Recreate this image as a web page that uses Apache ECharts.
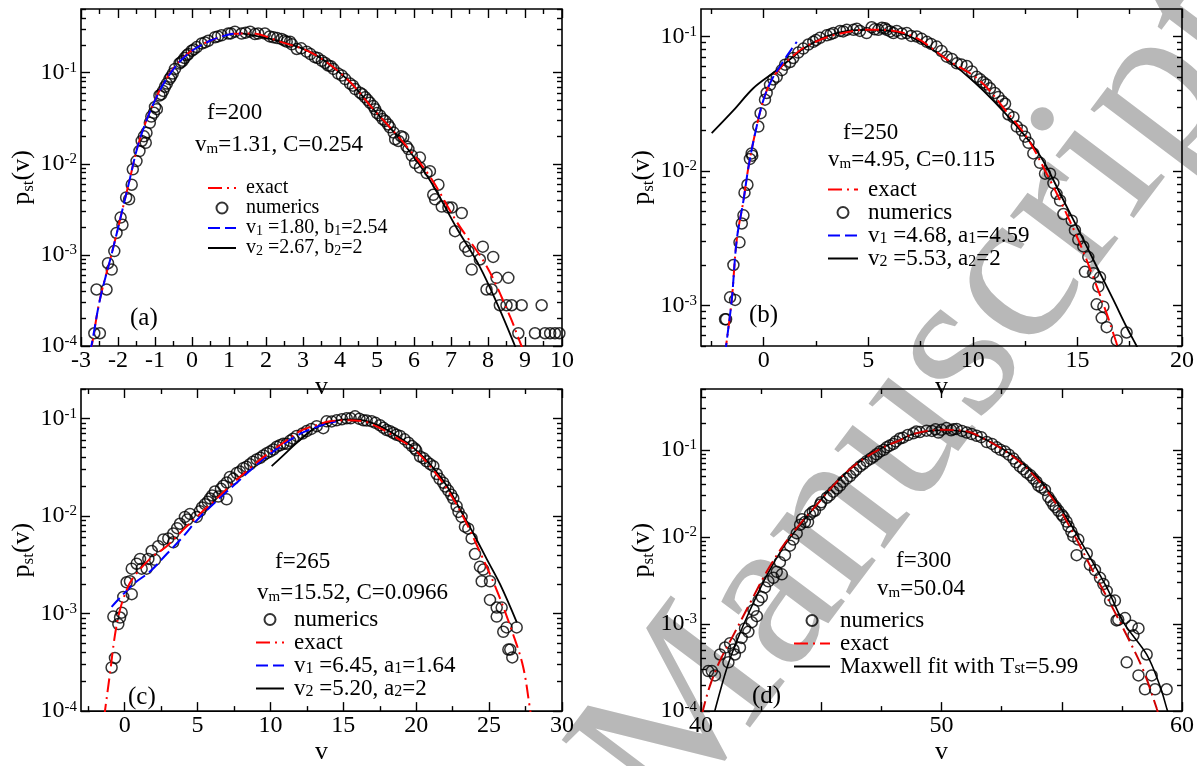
<!DOCTYPE html>
<html>
<head>
<meta charset="utf-8">
<script src="https://cdn.jsdelivr.net/npm/echarts@6/dist/echarts.min.js"></script>
<style>
  html, body { margin: 0; padding: 0; background: #fff; }
  #chart { width: 1197px; height: 766px; }
</style>
</head>
<body>
<div id="chart"></div>
<script>
// ---------- panel (a): f = 200 ----------
const numericsA = [
  [-2.64,1.38e-4],[-2.49,1.38e-4],[-2.58,4.17e-4],[-2.31,4.17e-4],[-2.27,8.1e-4],[-2.17,6.9e-4],
  [-2.10,1.10e-3],[-2.04,1.74e-3],[-1.93,2.57e-3],[-1.88,2.14e-3],[-1.78,4.27e-3],[-1.70,4.07e-3],
  [-1.63,5.89e-3],[-1.60,8.7e-3],[-1.50,1.07e-2],[-1.42,1.38e-2],[-1.36,1.78e-2],[-1.30,2.0e-2],
  [-1.25,1.70e-2],[-1.23,2.19e-2],[-1.14,2.82e-2],[-1.10,3.3e-2],[-1.03,3.63e-2],[-1.00,4.2e-2],
  [-0.95,3.98e-2],[-0.88,5.62e-2],[-0.83,5.8e-2],[-0.78,6.31e-2],[-0.73,7.0e-2],[-0.68,7.59e-2],
  [-0.61,8.51e-2],[-0.57,9.0e-2],[-0.52,9.77e-2],[-0.46,0.110],[-0.34,0.126],[-0.30,0.130],
  [-0.25,0.135],[-0.20,0.145],[-0.14,0.155],[-0.10,0.160],[-0.01,0.174],[0.05,0.180],[0.13,0.191],
  [0.26,0.209],[0.35,0.215],[0.44,0.224],[0.62,0.245],[0.70,0.250],[0.80,0.257],[0.98,0.269],
  [1.05,0.270],[1.16,0.282],[1.34,0.269],[1.45,0.275],[1.57,0.282],[1.70,0.265],[1.79,0.269],
  [1.97,0.269],[2.10,0.250],[2.20,0.245],[2.30,0.240],[2.42,0.234],[2.50,0.225],[2.56,0.219],
  [2.65,0.219],[2.70,0.205],[2.83,0.182],[2.95,0.185],[3.10,0.170],[3.20,0.160],[3.32,0.148],
  [3.40,0.145],[3.51,0.135],[3.60,0.128],[3.68,0.120],[3.75,0.118],[3.82,0.110],[3.95,0.0977],
  [4.05,0.093],[4.14,0.0851],[4.27,0.0759],[4.35,0.072],[4.41,0.0661],[4.54,0.0603],[4.60,0.058],
  [4.68,0.0537],[4.75,0.050],[4.81,0.0468],[4.90,0.043],[4.95,0.0398],[5.00,0.036],[5.08,0.0339],
  [5.15,0.031],[5.22,0.0295],[5.30,0.027],[5.35,0.0251],[5.45,0.022],[5.49,0.0186],[5.58,0.0178],
  [5.65,0.020],[5.71,0.0195],[5.80,0.0155],[5.85,0.0145],[5.94,0.0123],[6.03,0.0102],[6.16,0.0117],
  [6.16,9.1e-3],[6.34,7.9e-3],[6.43,8.3e-3],[6.52,4.57e-3],[6.57,4.07e-3],[6.66,5.89e-3],
  [6.75,3.39e-3],[6.93,3.31e-3],[7.02,3.31e-3],[7.11,1.82e-3],[7.29,2.88e-3],[7.38,1.23e-3],
  [7.47,1.10e-3],[7.56,6.9e-4],[7.78,8.9e-4],[7.86,1.23e-3],[8.14,9.5e-4],[7.96,4.17e-4],
  [8.10,4.17e-4],[8.23,5.6e-4],[8.55,5.6e-4],[8.32,2.8e-4],[8.50,2.8e-4],[8.64,2.8e-4],
  [8.91,2.8e-4],[9.45,2.8e-4],[8.82,1.38e-4],[9.27,1.38e-4],[9.54,1.38e-4],[9.68,1.38e-4],
  [9.81,1.38e-4],[9.93,1.38e-4]
];
const exactA = [
  [-2.76,8.5e-5],[-2.71,1.0e-4],[-2.49,3.24e-4],[-2.14,1.15e-3],[-1.73,5.6e-3],[-1.41,1.86e-2],
  [-0.95,5.55e-2],[-0.51,0.110],[-0.05,0.170],[0.49,0.224],[1.11,0.267],[1.6,0.270],[2.38,0.219],
  [3.27,0.162],[4.19,0.0851],[4.9,0.0398],[5.7,0.0174],[6.43,7.24e-3],[7.16,2.29e-3],
  [7.97,7.41e-4],[8.6,2.09e-4],[8.81,1.26e-4],[8.95,9.0e-5]
];
const fit1A = [
  [-2.78,8.5e-5],[-2.72,1.0e-4],[-2.49,3.2e-4],[-2.14,1.15e-3],[-1.73,5.6e-3],[-1.41,1.86e-2],
  [-0.95,5.5e-2],[-0.51,0.108],[-0.05,0.168],[0.49,0.224],[1.0,0.262],[1.31,0.270]
];
const fit2A = [
  [1.31,0.272],[2.38,0.221],[3.27,0.163],[4.19,0.0851],[4.9,0.0398],[5.7,0.0170],[6.43,6.6e-3],
  [7.16,1.95e-3],[7.78,7.4e-4],[8.3,2.6e-4],[8.73,1.0e-4],[8.78,8.8e-5]
];

// ---------- panel (b): f = 250 ----------
const numericsB = [
  [-1.85,7.9e-4],[-1.80,7.9e-4],[-1.61,1.15e-3],[-1.37,1.10e-3],[-1.45,2.0e-3],[-1.16,2.95e-3],
  [-1.05,4.07e-3],[-0.97,4.68e-3],[-0.92,6.9e-3],[-0.78,7.9e-3],[-0.66,1.23e-2],[-0.58,1.35e-2],
  [-0.55,1.30e-2],[-0.26,2.14e-2],[-0.15,2.69e-2],[0.06,3.39e-2],[0.14,3.8e-2],[0.30,4.37e-2],
  [0.46,4.79e-2],[0.62,5.01e-2],[0.86,5.62e-2],[1.02,6.17e-2],[1.26,6.46e-2],[1.41,6.92e-2],
  [1.65,7.59e-2],[1.89,8.13e-2],[2.13,8.71e-2],[2.37,9.12e-2],[2.50,0.094],[2.69,9.77e-2],
  [3.01,0.102],[3.20,0.104],[3.33,0.106],[3.65,0.110],[3.80,0.109],[3.97,0.112],[4.29,0.112],
  [4.45,0.114],[4.60,0.110],[4.92,0.106],[5.16,0.117],[5.30,0.113],[5.48,0.112],[5.65,0.116],
  [5.80,0.115],[5.88,0.112],[6.05,0.109],[6.20,0.106],[6.36,0.110],[6.60,0.105],[6.84,0.106],
  [7.05,0.101],[7.32,0.100],[7.55,0.096],[7.80,0.0912],[8.00,0.088],[8.27,0.0841],[8.50,0.078],
  [8.75,0.0708],[9.00,0.068],[9.23,0.0631],[9.45,0.062],[9.71,0.0603],[9.95,0.055],[10.18,0.0501],
  [10.35,0.048],[10.50,0.0457],[10.65,0.044],[10.82,0.0412],[11.05,0.038],[11.22,0.0355],
  [11.40,0.033],[11.54,0.0316],[11.70,0.0263],[11.94,0.0251],[12.10,0.0214],[12.34,0.0200],
  [12.50,0.0180],[12.66,0.0162],[12.89,0.0135],[13.21,0.0115],[13.45,9.55e-3],[13.69,9.55e-3],
  [13.85,8.13e-3],[14.00,6.76e-3],[14.17,6.03e-3],[14.33,4.79e-3],[14.73,4.27e-3],[14.88,3.63e-3],
  [15.04,3.09e-3],[15.28,2.75e-3],[15.52,2.29e-3],[15.36,1.78e-3],[15.76,1.74e-3],[16.08,1.62e-3],
  [16.00,1.38e-3],[15.92,1.02e-3],[16.24,9.8e-4],[16.16,8.1e-4],[16.40,6.9e-4],[16.88,5.5e-4],
  [17.35,6.3e-4]
];
const exactB = [
  [-1.85,4.3e-4],[-1.80,5.0e-4],[-1.53,1.10e-3],[-1.29,3.09e-3],[-0.97,6.03e-3],[-0.73,1.07e-2],
  [-0.41,1.91e-2],[-0.01,3.39e-2],[0.39,4.79e-2],[0.87,6.03e-2],[1.35,7.08e-2],[2.06,8.51e-2],
  [3.33,0.102],[4.92,0.112],[5.56,0.112],[7.15,0.100],[8.75,0.0676],[10.34,0.0468],[11.62,0.0275],
  [12.58,0.0178],[13.53,9.55e-3],[14.33,5.37e-3],[15.12,2.88e-3],[15.76,1.62e-3],[16.40,8.7e-4],
  [16.72,6.17e-4],[16.91,5.0e-4],[17.0,4.37e-4]
];
const fit1B = [
  [-1.85,4.3e-4],[-1.80,5.0e-4],[-1.53,1.10e-3],[-1.29,3.09e-3],[-0.97,6.03e-3],[-0.73,1.07e-2],
  [-0.41,1.91e-2],[-0.01,3.39e-2],[0.39,4.79e-2],[0.87,6.31e-2],[1.35,8.13e-2],[1.58,9.12e-2]
];
const fit2B = [
  [-2.49,0.0191],[-1.45,0.0282],[-0.50,0.0412],[0.46,0.0537],[1.10,0.0646],[2.0,0.0832],
  [3.0,0.100],[4.0,0.110],[5.0,0.112],[6.0,0.110],[7.0,0.100],[8.0,0.0813],[9.0,0.0631],
  [10.0,0.0468],[11.0,0.0331],[12.0,0.0224],[13.0,0.0145],[13.53,0.0107],[14.24,6.46e-3],
  [15.12,3.47e-3],[15.92,1.95e-3],[16.72,1.10e-3],[17.35,6.92e-4],[17.83,5.0e-4],[17.9,4.7e-4]
];

// ---------- panel (c): f = 265 ----------
const numericsC = [
  [-0.90,2.8e-4],[-0.67,3.5e-4],[-0.78,9.3e-4],[-0.44,7.8e-4],[-0.32,9.1e-4],[-0.21,1.02e-3],
  [-0.10,1.48e-3],[0.48,1.58e-3],[0.13,2.09e-3],[0.36,2.14e-3],[0.48,2.88e-3],[0.82,3.24e-3],
  [1.16,2.88e-3],[1.05,3.63e-3],[1.50,2.88e-3],[1.62,3.63e-3],[1.85,4.37e-3],[2.08,3.55e-3],
  [2.30,4.9e-3],[2.65,5.75e-3],[2.99,5.89e-3],[3.33,5.37e-3],[3.33,6.61e-3],[3.60,7.5e-3],
  [3.79,8.32e-3],[4.13,9.77e-3],[4.30,9.2e-3],[4.48,1.05e-2],[4.94,9.77e-3],[5.16,1.12e-2],
  [5.30,1.22e-2],[5.51,1.32e-2],[5.70,1.40e-2],[5.85,1.51e-2],[6.00,1.62e-2],[6.19,1.78e-2],
  [6.42,1.58e-2],[6.60,1.90e-2],[6.76,2.04e-2],[6.99,1.48e-2],[7.00,2.2e-2],[7.22,2.51e-2],
  [7.45,2.4e-2],[7.68,2.75e-2],[7.90,2.85e-2],[8.13,3.09e-2],[8.35,3.2e-2],[8.59,3.39e-2],
  [8.80,3.6e-2],[9.05,3.8e-2],[9.30,3.95e-2],[9.51,4.17e-2],[9.75,4.4e-2],[9.97,4.57e-2],
  [10.20,4.8e-2],[10.43,5.13e-2],[10.65,5.3e-2],[10.88,5.5e-2],[11.11,5.5e-2],[11.34,5.89e-2],
  [11.55,6.2e-2],[11.80,6.61e-2],[12.20,7.0e-2],[12.48,7.41e-2],[12.80,7.8e-2],[13.17,8.32e-2],
  [13.62,7.94e-2],[13.85,9.33e-2],[14.20,9.3e-2],[14.54,9.55e-2],[14.90,9.8e-2],[15.23,0.100],
  [15.50,0.100],[15.80,0.105],[16.10,0.099],[16.37,9.55e-2],[16.60,9.5e-2],[16.94,9.33e-2],
  [17.20,9.0e-2],[17.51,8.51e-2],[17.75,8.0e-2],[17.97,7.59e-2],[18.20,7.4e-2],[18.43,7.08e-2],
  [18.65,6.8e-2],[18.89,6.61e-2],[19.20,6.1e-2],[19.46,5.62e-2],[19.70,5.2e-2],[19.91,4.9e-2],
  [20.00,4.7e-2],[20.26,4.07e-2],[20.50,3.9e-2],[20.71,3.63e-2],[20.95,3.4e-2],[21.17,3.24e-2],
  [21.40,2.69e-2],[21.60,2.4e-2],[21.85,2.19e-2],[22.00,2.0e-2],[22.20,1.82e-2],[22.40,1.65e-2],
  [22.54,1.51e-2],[22.77,1.26e-2],[22.90,1.1e-2],[23.11,9.77e-3],[23.34,7.76e-3],[23.57,7.41e-3],
  [23.80,5.89e-3],[24.03,4.07e-3],[24.37,3.02e-3],[24.60,2.82e-3],[24.49,2.14e-3],[25.06,2.14e-3],
  [25.06,1.38e-3],[25.52,1.15e-3],[25.86,1.15e-3],[25.52,9.3e-4],[26.20,7.2e-4],[26.89,7.2e-4],
  [25.97,6.5e-4],[26.32,4.27e-4],[26.45,4.27e-4],[26.59,3.55e-4]
];
const exactC = [
  [-1.42,8.5e-5],[-1.35,1.02e-4],[-1.01,2.45e-4],[-0.67,6.03e-4],[-0.32,1.10e-3],[0.13,1.74e-3],
  [0.59,2.34e-3],[1.73,3.63e-3],[2.88,4.9e-3],[4.02,7.24e-3],[5.16,1.05e-2],[6.31,1.51e-2],
  [7.45,2.19e-2],[8.59,3.09e-2],[9.74,4.27e-2],[10.88,5.62e-2],[12.03,7.41e-2],[12.94,8.32e-2],
  [14.08,9.33e-2],[15.23,9.55e-2],[16.37,9.33e-2],[17.51,7.94e-2],[18.66,6.31e-2],[19.80,4.9e-2],
  [20.94,3.24e-2],[22.09,1.91e-2],[23.23,9.77e-3],[24.37,4.27e-3],[25.52,1.74e-3],[26.66,6.03e-4],
  [27.34,2.82e-4],[27.80,1.07e-4],[27.85,9.5e-5]
];
const fit1C = [
  [-0.90,1.17e-3],[0.59,2.0e-3],[1.73,2.69e-3],[2.88,4.07e-3],[4.02,6.17e-3],[5.16,9.77e-3],
  [7.45,2.04e-2],[9.74,4.07e-2],[12.03,6.92e-2],[13.5,8.5e-2],[14.5,9.3e-2]
];
const fit2C = [
  [10.08,3.24e-2],[10.88,4.17e-2],[11.8,5.6e-2],[12.94,7.76e-2],[14.08,9.12e-2],[15.23,9.77e-2],
  [16.37,9.55e-2],[17.51,8.32e-2],[18.66,6.61e-2],[19.80,5.01e-2],[20.94,3.39e-2],[22.09,2.04e-2],
  [23.0,1.17e-2],[23.92,6.61e-3],[24.83,3.63e-3],[25.75,2.0e-3],[26.9,8.13e-4]
];

// ---------- panel (d): f = 300 ----------
const numericsD = [
  [40.30,2.88e-4],[40.45,2.88e-4],[40.58,2.57e-4],[40.79,4.47e-4],[41.00,5.37e-4],[41.14,3.63e-4],
  [41.21,6.03e-4],[41.35,5.1e-4],[41.41,4.47e-4],[41.62,5.37e-4],[41.69,6.92e-4],[41.83,8.91e-4],
  [41.97,8.13e-4],[42.11,1.05e-3],[42.18,1.45e-3],[42.32,1.23e-3],[42.39,1.86e-3],[42.53,2.04e-3],
  [42.66,2.63e-3],[42.80,3.09e-3],[43.01,3.39e-3],[43.15,3.98e-3],[43.36,3.72e-3],[43.28,5.13e-3],
  [43.49,6.17e-3],[43.70,7.94e-3],[43.84,9.33e-3],[43.98,1.10e-2],[44.12,1.38e-2],[44.20,1.6e-2],
  [44.32,1.48e-2],[44.45,1.48e-2],[44.53,1.82e-2],[44.65,1.95e-2],[44.74,2.0e-2],[44.95,2.34e-2],
  [45.00,2.5e-2],[45.23,2.82e-2],[45.35,3.0e-2],[45.50,3.31e-2],[45.65,3.6e-2],[45.78,3.89e-2],
  [45.90,4.3e-2],[46.06,4.68e-2],[46.20,5.0e-2],[46.33,5.5e-2],[46.45,5.9e-2],[46.61,6.46e-2],
  [46.75,6.9e-2],[46.89,7.41e-2],[47.05,7.9e-2],[47.17,8.32e-2],[47.30,8.9e-2],[47.44,9.55e-2],
  [47.60,0.100],[47.72,0.107],[47.85,0.112],[48.00,0.117],[48.10,0.125],[48.27,0.135],[48.40,0.138],
  [48.60,0.148],[48.83,0.155],[48.95,0.162],[49.10,0.160],[49.38,0.166],[49.60,0.165],[49.75,0.172],
  [49.87,0.158],[50.00,0.170],[50.21,0.178],[50.40,0.168],[50.50,0.172],[50.63,0.174],[50.85,0.165],
  [51.05,0.158],[51.25,0.152],[51.46,0.145],[51.65,0.140],[51.88,0.123],[52.10,0.117],[52.29,0.107],
  [52.45,0.100],[52.64,9.55e-2],[52.80,8.8e-2],[52.99,7.94e-2],[53.10,7.2e-2],[53.26,6.46e-2],
  [53.40,6.0e-2],[53.54,5.5e-2],[53.70,5.1e-2],[53.82,4.68e-2],[53.95,4.3e-2],[54.03,3.89e-2],
  [54.15,3.7e-2],[54.30,3.47e-2],[54.44,2.88e-2],[54.55,2.6e-2],[54.65,2.34e-2],[54.75,2.2e-2],
  [54.86,2.0e-2],[55.00,1.8e-2],[55.07,1.70e-2],[55.20,1.5e-2],[55.28,1.32e-2],[55.40,1.15e-2],
  [55.48,1.02e-2],[55.69,9.33e-3],[55.62,6.17e-3],[56.04,6.46e-3],[56.17,4.79e-3],[56.38,4.17e-3],
  [56.59,3.39e-3],[56.73,2.88e-3],[56.87,2.40e-3],[57.01,1.86e-3],[57.21,1.86e-3],[57.28,1.10e-3],
  [57.35,1.12e-3],[57.63,1.17e-3],[57.91,9.55e-4],[57.98,7.41e-4],[58.19,8.91e-4],[57.70,3.63e-4],
  [58.53,4.47e-4],[58.19,2.57e-4],[58.74,2.57e-4],[58.46,1.78e-4],[58.88,1.78e-4],[59.36,1.78e-4]
];
const exactD = [
  [40.05,9.0e-5],[40.10,1.07e-4],[40.37,1.95e-4],[40.79,3.8e-4],[41.34,7.41e-4],[42.04,1.74e-3],
  [42.73,3.98e-3],[43.42,7.94e-3],[44.12,1.41e-2],[44.81,2.34e-2],[45.50,3.89e-2],[46.20,6.03e-2],
  [46.89,8.32e-2],[47.58,0.107],[48.27,0.129],[48.83,0.152],[49.94,0.170],[50.91,0.166],
  [51.88,0.129],[52.99,8.32e-2],[53.96,4.68e-2],[54.79,2.34e-2],[55.62,9.33e-3],[56.31,3.98e-3],
  [57.01,1.74e-3],[57.70,7.41e-4],[58.39,2.95e-4],[58.95,1.07e-4],[59.0,9.5e-5]
];
const maxwellD = [
  [40.55,9.0e-5],[40.58,1.02e-4],[41.07,3.09e-4],[41.48,6.31e-4],[42.04,1.45e-3],[42.73,3.6e-3],
  [43.42,7.6e-3],[44.12,1.38e-2],[44.81,2.34e-2],[45.5,3.89e-2],[46.2,6.0e-2],[46.89,8.3e-2],
  [47.58,0.107],[48.27,0.130],[48.83,0.152],[49.94,0.168],[50.91,0.163],[51.88,0.130],[52.99,8.5e-2],
  [53.96,4.9e-2],[54.79,2.5e-2],[55.62,1.07e-2],[56.87,2.63e-3],[57.56,1.05e-3],[58.53,4.47e-4],
  [59.08,1.95e-4],[59.39,1.02e-4],[59.42,9.5e-5]
];

// ---------- axis ticks and labels ----------
const xLabelsA = [-3,-2,-1,0,1,2,3,4,5,6,7,8,9,10];
const xLabelsB = [0,5,10,15,20];
const xLabelsC = [0,5,10,15,20,25,30];
const xLabelsD = [40,50,60];
const xMajorD  = [40,45,50,55,60];
const yLabels  = [1e-4,1e-3,1e-2,1e-1];

const SERIF = '"Liberation Serif","Times New Roman",Times,serif';

function halfSteps(ticks, lo) {
  const out = [];
  const step = ticks[1] - ticks[0];
  const first = ticks[0] - step / 2 >= lo ? ticks[0] - step / 2 : ticks[0] + step / 2;
  for (let v = first; v < ticks[ticks.length - 1]; v += step) out.push(+v.toFixed(6));
  return out;
}
function logMinors(lo, hi) {
  const out = [];
  for (let e = -5; e <= 0; e++) {
    for (let k = 2; k <= 9; k++) {
      const v = +(k * Math.pow(10, e)).toPrecision(3);
      if (v >= lo && v <= hi) out.push(v);
    }
  }
  return out;
}
function toRich(s) { return s.replace(/_([A-Za-z0-9]+)/g, '{sub|$1}'); }
function subStyle(size, lh) {
  return { fontSize: size, fontFamily: SERIF, color: '#000', lineHeight: lh, verticalAlign: 'bottom' };
}

const panels = [
  { left: 81,  top: 9,   xMin: -3, xMax: 10, xMajor: xLabelsA, xLabels: xLabelsA, xMinor: halfSteps(xLabelsA, -3),
    yMin: 1e-4, yMax: 0.5, nameGapX: 11 },
  { left: 701, top: 9,   xMin: -3, xMax: 20, xMajor: xLabelsB, xLabels: xLabelsB, xMinor: halfSteps(xLabelsB, -3),
    yMin: 5e-4, yMax: 0.16, nameGapX: 11 },
  { left: 81,  top: 389, xMin: -3, xMax: 30, xMajor: xLabelsC, xLabels: xLabelsC, xMinor: halfSteps(xLabelsC, -3),
    yMin: 1e-4, yMax: 0.2, nameGapX: 14 },
  { left: 701, top: 389, xMin: 40, xMax: 60, xMajor: xMajorD, xLabels: xLabelsD, xMinor: halfSteps(xMajorD, 40),
    yMin: 1e-4, yMax: 0.5, nameGapX: 14 }
];

const grids = [], xAxes = [], yAxes = [];
const tickLine = { color: '#000', width: 1.4 };

panels.forEach((p, gi) => {
  grids.push({ left: p.left, top: p.top, width: 481, height: 337, show: true,
               borderColor: '#000', borderWidth: 1.6, backgroundColor: 'transparent', containLabel: false });
  const xBase = { type: 'value', gridIndex: gi, min: p.xMin, max: p.xMax,
                  axisLine: { show: false, onZero: false }, splitLine: { show: false } };
  const noLabel = { show: false };
  xAxes.push(Object.assign({}, xBase, {
    position: 'bottom',
    axisTick: { inside: true, length: 9, customValues: p.xMajor, lineStyle: tickLine },
    axisLabel: { customValues: p.xLabels, fontFamily: SERIF, fontSize: 24, color: '#000', margin: 3 },
    name: 'v', nameLocation: 'middle', nameGap: p.nameGapX,
    nameTextStyle: { fontFamily: SERIF, fontSize: 26, color: '#000' }
  }));
  xAxes.push(Object.assign({}, xBase, { position: 'top',
    axisTick: { inside: true, length: 9, customValues: p.xMajor, lineStyle: tickLine }, axisLabel: noLabel }));
  xAxes.push(Object.assign({}, xBase, { position: 'bottom',
    axisTick: { inside: true, length: 5, customValues: p.xMinor, lineStyle: tickLine }, axisLabel: noLabel }));
  xAxes.push(Object.assign({}, xBase, { position: 'top',
    axisTick: { inside: true, length: 5, customValues: p.xMinor, lineStyle: tickLine }, axisLabel: noLabel }));

  const yBase = { type: 'log', logBase: 10, gridIndex: gi, min: p.yMin, max: p.yMax,
                  axisLine: { show: false, onZero: false }, splitLine: { show: false }, minorTick: { show: false } };
  const majors = yLabels.filter(v => v >= p.yMin * 0.999 && v <= p.yMax);
  const minors = logMinors(p.yMin, p.yMax);
  yAxes.push(Object.assign({}, yBase, {
    position: 'left',
    axisTick: { inside: true, length: 9, customValues: majors, lineStyle: tickLine },
    axisLabel: {
      customValues: majors, margin: 4, fontFamily: SERIF, fontSize: 24, color: '#000', lineHeight: 24,
      formatter: v => '10{sup|' + Math.round(Math.log10(v)) + '}',
      rich: { sup: { fontSize: 15, fontFamily: SERIF, color: '#000', lineHeight: 6, verticalAlign: 'top' } }
    },
    name: 'p{sub|st}(v)', nameLocation: 'middle', nameGap: 41,
    nameTextStyle: { fontFamily: SERIF, fontSize: 26, color: '#000', lineHeight: 28,
                     rich: { sub: subStyle(17, 6) } }
  }));
  yAxes.push(Object.assign({}, yBase, { position: 'right',
    axisTick: { inside: true, length: 9, customValues: majors, lineStyle: tickLine }, axisLabel: noLabel }));
  yAxes.push(Object.assign({}, yBase, { position: 'left',
    axisTick: { inside: true, length: 5, customValues: minors, lineStyle: tickLine }, axisLabel: noLabel }));
  yAxes.push(Object.assign({}, yBase, { position: 'right',
    axisTick: { inside: true, length: 5, customValues: minors, lineStyle: tickLine }, axisLabel: noLabel }));
});

// ---------- series ----------
const DASHDOT = [14, 5, 2, 5];
const DASHED = [12, 5];
function scatter(data, gi) {
  return { type: 'scatter', name: 'numerics', data, xAxisIndex: gi * 4, yAxisIndex: gi * 4,
           symbol: 'circle', symbolSize: 11, silent: true, z: 2,
           itemStyle: { color: 'rgba(0,0,0,0)', borderColor: '#000', borderWidth: 1.5 } };
}
function curve(name, data, gi, color, type, width, z) {
  return { type: 'line', name, data, xAxisIndex: gi * 4, yAxisIndex: gi * 4,
           symbol: 'none', showSymbol: false, smooth: 0.35, silent: true, z,
           lineStyle: { color, type, width }, itemStyle: { color } };
}

const nameA1 = 'v_1 =1.80, b_1=2.54', nameA2 = 'v_2 =2.67, b_2=2';
const nameB1 = 'v_1 =4.68, a_1=4.59', nameB2 = 'v_2 =5.53, a_2=2';
const nameC1 = 'v_1 =6.45, a_1=1.64', nameC2 = 'v_2 =5.20, a_2=2';
const nameD2 = 'Maxwell fit with T_st=5.99';

const series = [
  scatter(numericsA, 0),
  curve(nameA2, fit2A, 0, '#000', 'solid', 1.8, 3),
  curve('exact', exactA, 0, '#ff0000', DASHDOT, 2, 4),
  curve(nameA1, fit1A, 0, '#0000ff', DASHED, 2, 5),

  scatter(numericsB, 1),
  curve(nameB2, fit2B, 1, '#000', 'solid', 1.8, 3),
  curve('exact', exactB, 1, '#ff0000', DASHDOT, 2, 4),
  curve(nameB1, fit1B, 1, '#0000ff', DASHED, 2, 5),

  scatter(numericsC, 2),
  curve(nameC2, fit2C, 2, '#000', 'solid', 1.8, 3),
  curve(nameC1, fit1C, 2, '#0000ff', DASHED, 2, 4),
  curve('exact', exactC, 2, '#ff0000', DASHDOT, 2, 5),

  scatter(numericsD, 3),
  curve(nameD2, maxwellD, 3, '#000', 'solid', 1.6, 3),
  curve('exact', exactD, 3, '#d00000', DASHDOT, 2, 4)
];

// ---------- legends ----------
// line entries show only their stroke (no marker in the middle)
function entry(name) {
  return name === 'numerics' ? { name } : { name, itemStyle: { opacity: 0 } };
}
function legend(left, top, names, fontSize, rowH, itemWidth) {
  return {
    orient: 'vertical', left, top, padding: 0, itemGap: 0, itemWidth, itemHeight: 11,
    selectedMode: false, data: names.map(entry), formatter: toRich,
    textStyle: { fontFamily: SERIF, fontSize, color: '#000', lineHeight: rowH, padding: [0, 0, 0, 5],
                 rich: { sub: subStyle(Math.round(fontSize * 0.68), 6) } }
  };
}
const legends = [
  legend(207, 178, ['exact', 'numerics', nameA1, nameA2], 20, 20, 28),
  legend(827, 178, ['exact', 'numerics', nameB1, nameB2], 23, 22, 30),
  legend(255, 608, ['numerics', 'exact', nameC1, nameC2], 23, 22, 28),
  legend(793, 609, ['numerics', 'exact', nameD2], 23, 20.5, 36)
];

// ---------- text annotations ----------
function note(x, y, text, size) {
  return { type: 'text', x, y, z: 20, silent: true,
           style: { text: toRich(text), fontFamily: SERIF, fontSize: size, fill: '#000', lineHeight: size + 1,
                    textVerticalAlign: 'middle', verticalAlign: 'middle',
                    rich: { sub: subStyle(Math.round(size * 0.66), 6) } } };
}
const notes = [
  note(207, 113, 'f=200', 23), note(195, 145, 'v_m=1.31, C=0.254', 23), note(130, 318, '(a)', 25),
  note(843, 133, 'f=250', 23), note(828, 160, 'v_m=4.95, C=0.115', 23), note(749, 315, '(b)', 25),
  note(275, 562, 'f=265', 23), note(257, 593, 'v_m=15.52, C=0.0966', 23), note(128, 697, '(c)', 25),
  note(896, 561, 'f=300', 23), note(877, 589, 'v_m=50.04', 23), note(752, 696, '(d)', 25)
];
const watermark = {
  type: 'text', x: 925, y: 400, rotation: 53 * Math.PI / 180, z: -10, silent: true,
  style: { text: 'Manuscript', fontFamily: SERIF, fontSize: 218, fill: '#b8b8b8',
           textAlign: 'center', align: 'center', textVerticalAlign: 'middle', verticalAlign: 'middle' }
};

const chart = echarts.init(document.getElementById('chart'), null, { renderer: 'canvas' });
chart.setOption({
  backgroundColor: '#fff',
  animation: false,
  grid: grids,
  xAxis: xAxes,
  yAxis: yAxes,
  legend: legends,
  series,
  graphic: [watermark].concat(notes)
});
</script>
</body>
</html>
